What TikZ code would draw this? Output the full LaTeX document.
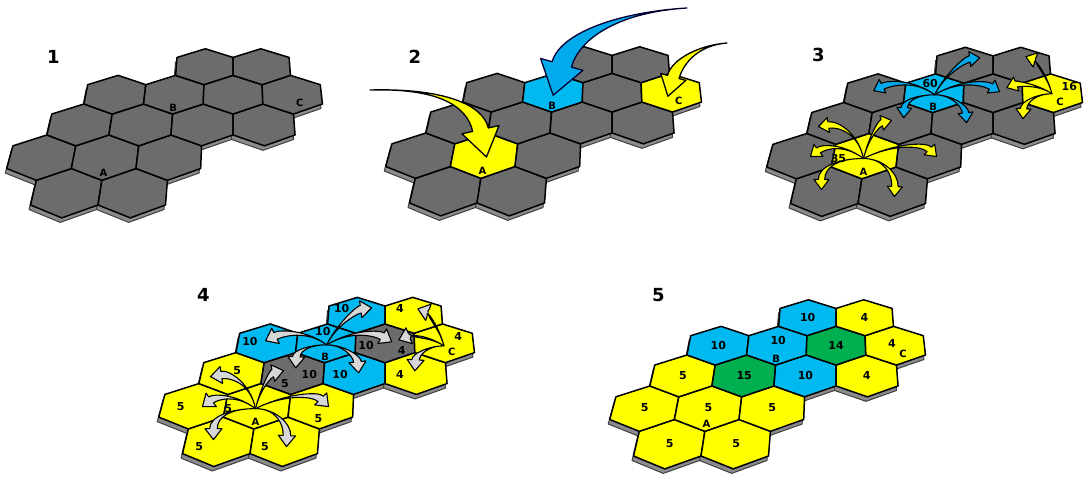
\documentclass[tikz,border=0pt]{standalone}
\usepackage{fontspec}
\setmainfont{DejaVu Sans}
\usetikzlibrary{calc}

\definecolor{gy}{RGB}{108,108,108}
\definecolor{ye}{RGB}{255,255,0}
\definecolor{bl}{RGB}{0,185,240}
\definecolor{gn}{RGB}{0,176,80}
\definecolor{slabgray}{RGB}{140,140,140}
\definecolor{arrowgray}{RGB}{215,215,215}
\definecolor{arrowblue}{RGB}{0,170,235}

% panel offset used by the projection functions
\def\PX{0}\def\PY{0}

% perspective projection of the hex board: (m,r) = tile index, (a,b) = offset in the board plane
\tikzset{
  declare function={
    vx(\m,\r,\a,\b)=\PX+66.7+(38.4*(0.8660254*\m+\a)+4.8*(1.5*\r+\b))/(1+0.0288*(1.5*\r+\b));
    vy(\m,\r,\a,\b)=\PY+192.5-24.67*(1.5*\r+\b)/(1+0.0288*(1.5*\r+\b));
  },
}

% outline of one pointy-top hexagon
\newcommand\hexpath[2]{({vx(#1,#2,0.866,0.5)},{vy(#1,#2,0.866,0.5)})
  -- ({vx(#1,#2,0,1)},{vy(#1,#2,0,1)})
  -- ({vx(#1,#2,-0.866,0.5)},{vy(#1,#2,-0.866,0.5)})
  -- ({vx(#1,#2,-0.866,-0.5)},{vy(#1,#2,-0.866,-0.5)})
  -- ({vx(#1,#2,0,-1)},{vy(#1,#2,0,-1)})
  -- ({vx(#1,#2,0.866,-0.5)},{vy(#1,#2,0.866,-0.5)}) -- cycle}

% a board: #1 prefix for tile names, #2 #3 offset, #4 list m/r/colour
\newcommand\tiles[4]{%
  \def\PX{#2}\def\PY{#3}%
  \foreach \hm/\hr/\hc in {#4}{\filldraw[tileslab, xshift=-1.5pt, yshift=-4.5pt] \hexpath{\hm}{\hr};}
  \foreach \hm/\hr/\hc in {#4}{\filldraw[tileface, fill=\hc] \hexpath{\hm}{\hr};
    \coordinate (#1-\hm-\hr) at ({vx(\hm,\hr,0,0)},{vy(\hm,\hr,0,0)});}
}

% curved tapering arrow: #1 style, #2 tail, #3 #4 controls, #5 tip
\def\swW{2.5pt}\def\swL{8pt}\def\swH{6pt}
\newcommand\swoosh[5]{%
  \coordinate (sw-a) at #2;
  \coordinate (sw-b) at #3;
  \coordinate (sw-c) at #4;
  \coordinate (sw-t) at #5;
  \coordinate (sw-h) at ($(sw-t)!\swL!(sw-c)$);
  \coordinate (sw-hl) at ($(sw-h)!\swW!90:(sw-t)$);
  \coordinate (sw-hr) at ($(sw-h)!\swW!-90:(sw-t)$);
  \coordinate (sw-wl) at ($(sw-h)!\swH!90:(sw-t)$);
  \coordinate (sw-wr) at ($(sw-h)!\swH!-90:(sw-t)$);
  \coordinate (sw-cl) at ($(sw-c)!\swW!90:(sw-h)$);
  \coordinate (sw-cr) at ($(sw-c)!\swW!-90:(sw-h)$);
  \filldraw[#1] (sw-a) .. controls (sw-b) and (sw-cl) .. (sw-hl) -- (sw-wl) -- (sw-t)
    -- (sw-wr) -- (sw-hr) .. controls (sw-cr) and (sw-b) .. cycle;
}
% arrow given relative to a named origin
\newcommand\fan[5]{\swoosh{#1}{(#2)}{($(#2)+(#3)$)}{($(#2)+(#4)$)}{($(#2)+(#5)$)}}

% spreading arrows out of A, B and C
\newcommand\fanA[2]{%
  \fan{#1}{#2}{-5,-25}{-25,-35}{-45,-32}
  \fan{#1}{#2}{5,-20}{15,-35}{28,-38}
  \fan{#1}{#2}{-20,-15}{-40,-12}{-53,-2}
  \fan{#1}{#2}{30,-15}{60,-15}{73,-2}
  \fan{#1}{#2}{-25,0}{-42,8}{-42,31}
  \fan{#1}{#2}{20,0}{32,15}{31,38}}
\newcommand\fanB[2]{%
  \fan{#1}{#2}{10,-20}{30,-35}{45,-37}
  \fan{#1}{#2}{-20,-15}{-45,-12}{-61,-4}
  \fan{#1}{#2}{25,-15}{50,-12}{65,-3}
  \fan{#1}{#2}{-15,0}{-30,5}{-31,23}
  \fan{#1}{#2}{15,0}{30,10}{32,28}}
\newcommand\fanC[2]{%
  \fan{#1}{#2}{-5,-20}{-20,-35}{-26,-37}
  \fan{#1}{#2}{-15,-10}{-35,-10}{-45,-6}
  \fan{#1}{#2}{-15,0}{-28,8}{-29,25}}

\begin{document}
\begin{tikzpicture}[x=1pt, y=-1pt, line join=round,
  tileface/.style={draw=black, line width=1.5pt},
  tileslab/.style={fill=slabgray, draw=black!75, line width=1pt},
  num/.style={font=\bfseries\fontsize{11}{12}\selectfont, inner sep=0pt},
  letter/.style={font=\bfseries\fontsize{10}{11}\selectfont, inner sep=0pt},
  paneltitle/.style={font=\bfseries\fontsize{18}{18}\selectfont, inner sep=0pt},
  arrY/.style={fill=ye, draw=black, line width=1.1pt},
  arrB/.style={fill=arrowblue, draw=black, line width=1.1pt},
  arrG/.style={fill=arrowgray, draw=black, line width=1.1pt},
  bigY/.style={fill=ye, draw=black, line width=1.3pt},
  bigB/.style={fill=arrowblue, draw=black!80!blue, line width=1.3pt},
]
\useasboundingbox (0,0) rectangle (1089,478);

% ---- boards ----
\tiles{p1}{0}{0}{0/0/gy,2/0/gy,-1/1/gy,1/1/gy,3/1/gy,0/2/gy,2/2/gy,4/2/gy,6/2/gy,1/3/gy,3/3/gy,5/3/gy,7/3/gy,4/4/gy,6/4/gy}
\tiles{p2}{379}{-2}{0/0/gy,2/0/gy,-1/1/gy,1/1/ye,3/1/gy,0/2/gy,2/2/gy,4/2/gy,6/2/gy,1/3/gy,3/3/bl,5/3/gy,7/3/ye,4/4/gy,6/4/gy}
\tiles{p3}{760}{-1.5}{0/0/gy,2/0/gy,-1/1/gy,1/1/ye,3/1/gy,0/2/gy,2/2/gy,4/2/gy,6/2/gy,1/3/gy,3/3/bl,5/3/gy,7/3/ye,4/4/gy,6/4/gy}
\tiles{p4}{152}{248.6}{0/0/ye,2/0/ye,-1/1/ye,1/1/ye,3/1/ye,0/2/ye,2/2/gy,4/2/bl,6/2/ye,1/3/bl,3/3/bl,5/3/gy,7/3/ye,4/4/bl,6/4/ye}
\tiles{p5}{603}{251}{0/0/ye,2/0/ye,-1/1/ye,1/1/ye,3/1/ye,0/2/ye,2/2/gn,4/2/bl,6/2/ye,1/3/bl,3/3/bl,5/3/gn,7/3/ye,4/4/bl,6/4/ye}

% ---- panel numbers ----
\node[paneltitle] (t1) at (53.3,56.7) {1};
\node[paneltitle] (t2) at (415,56.7) {2};
\node[paneltitle] (t3) at (818.3,55) {3};
\node[paneltitle] (t4) at (203.3,295) {4};
\node[paneltitle] (t5) at (658.3,295) {5};

% ---- tile letters ----
\foreach \p in {1,...,5}{
  \node[letter] (A\p) at ($(p\p-1-1)+(-2,16)$) {A};
  \node[letter] (B\p) at ($(p\p-3-3)+(-1,14)$) {B};
  \node[letter] (C\p) at ($(p\p-7-3)+(8,9)$) {C};
}

% ---- panel 2: picking the seeds ----
\coordinate (tailA2) at (370,90);
\coordinate (tailB2) at (687,8);
\coordinate (tailC2) at (727,43);
\def\swW{8pt}\def\swL{28pt}\def\swH{19pt}
\swoosh{bigY}{(tailA2)}{(440,88)}{(475,105)}{($(p2-1-1)+(2,2)$)}
\def\swW{10pt}\def\swL{32pt}\def\swH{22pt}
\swoosh{bigB}{(tailB2)}{(620,12)}{(570,35)}{($(p2-3-3)+(0,3)$)}
\def\swW{6pt}\def\swL{20pt}\def\swH{13pt}
\swoosh{bigY}{(tailC2)}{(700,45)}{(678,60)}{($(p2-7-3)+(-3,4)$)}

% ---- panel 3: spreading from the seeds ----
\node[num] (n35) at ($(p3-1-1)+(-27,3)$) {35};
\node[num] (n60) at ($(p3-3-3)+(-4,-9.4)$) {60};
\node[num] (n16) at ($(p3-7-3)+(17.4,-6)$) {16};
\coordinate (oA3) at ($(p3-1-1)+(-2,3)$);
\coordinate (oB3) at ($(p3-3-3)+(0.5,2)$);
\coordinate (oC3) at ($(p3-7-3)+(0,1)$);
\def\swW{3.2pt}\def\swL{10pt}\def\swH{7.5pt}
\fanA{arrY}{oA3}
\fanB{arrB}{oB3}
\fanC{arrY}{oC3}

% ---- panel 4: shares handed to neighbours ----
\node[num] (q1)  at ($(p4-4-4)+(-15,-6.6)$) {10};
\node[num] (q2)  at ($(p4-6-4)+(-13.4,-6.6)$) {4};
\node[num] (q3)  at ($(p4-1-3)+(-17.3,-1.1)$) {10};
\node[num] (q4)  at ($(p4-3-3)+(-3.4,-11.1)$) {10};
\node[num] (q5)  at ($(p4-5-3)+(-19,2.2)$) {10};
\node[num] (q6)  at ($(p4-5-3)+(16.7,7.2)$) {4};
\node[num] (q7)  at ($(p4-7-3)+(14.4,-6.1)$) {4};
\node[num] (q8)  at ($(p4-0-2)+(5.3,-2.3)$) {5};
\node[num] (q9)  at ($(p4-2-2)+(-8.2,10.3)$) {5};
\node[num] (q10) at ($(p4-2-2)+(16.1,2)$) {10};
\node[num] (q11) at ($(p4-4-2)+(-14.4,2)$) {10};
\node[num] (q12) at ($(p4-6-2)+(-15.6,2)$) {4};
\node[num] (q13) at ($(p4--1-1)+(-13,1.1)$) {5};
\node[num] (q14) at ($(p4-1-1)+(-29.2,2.7)$) {5};
\node[num] (q15) at ($(p4-3-1)+(-2.9,12.7)$) {5};
\node[num] (q16) at ($(p4-0-0)+(-19.4,5.6)$) {5};
\node[num] (q17) at ($(p4-2-0)+(-20.2,5.6)$) {5};
\coordinate (oA4) at ($(p4-1-1)+(-2,3)$);
\coordinate (oB4) at ($(p4-3-3)+(0.5,2)$);
\coordinate (oC4) at ($(p4-7-3)+(0,3)$);
\def\swW{3.8pt}\def\swL{11pt}\def\swH{8.5pt}
\fanA{arrG}{oA4}
\fanB{arrG}{oB4}
\fanC{arrG}{oC4}

% ---- panel 5: final values ----
\node[num] (r1)  at ($(p5-4-4)$) {10};
\node[num] (r2)  at ($(p5-6-4)$) {4};
\node[num] (r3)  at ($(p5-1-3)$) {10};
\node[num] (r4)  at ($(p5-3-3)+(1,-5)$) {10};
\node[num] (r5)  at ($(p5-5-3)$) {14};
\node[num] (r6)  at ($(p5-7-3)+(-3,-2)$) {4};
\node[num] (r7)  at ($(p5-0-2)$) {5};
\node[num] (r8)  at ($(p5-2-2)$) {15};
\node[num] (r9)  at ($(p5-4-2)$) {10};
\node[num] (r10) at ($(p5-6-2)$) {4};
\node[num] (r11) at ($(p5--1-1)$) {5};
\node[num] (r12) at ($(p5-1-1)$) {5};
\node[num] (r13) at ($(p5-3-1)$) {5};
\node[num] (r14) at ($(p5-0-0)$) {5};
\node[num] (r15) at ($(p5-2-0)$) {5};
\end{tikzpicture}
\end{document}
